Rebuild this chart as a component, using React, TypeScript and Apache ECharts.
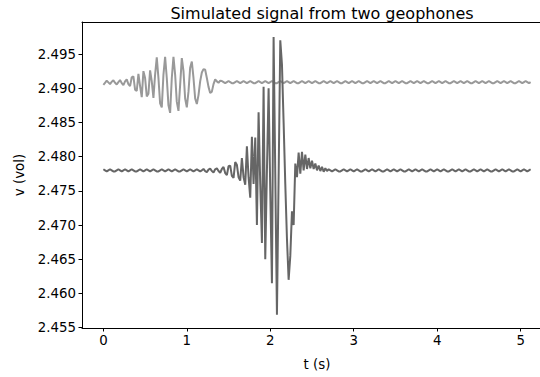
import React, { useEffect, useRef } from "react";
import * as echarts from "echarts";

// sampling step of both records (s)
const dt = 0.02;

const xTicks = [0, 1, 2, 3, 4, 5];
const yTicks = [2.455, 2.46, 2.465, 2.47, 2.475, 2.48, 2.485, 2.49, 2.495];

// geophone 1 (light trace), volts, t = 0 .. 5.12 s
const geophoneA = [
  2.4905, 2.4908, 2.4911, 2.49085, 2.4906, 2.49095, 2.49115, 2.4908, 2.49055, 2.4909, 2.4912, 2.49075, 2.49045, 2.491, 2.4913, 2.4906,
  2.4903, 2.4916, 2.49175, 2.4898, 2.4896, 2.4921, 2.4903, 2.4887, 2.4925, 2.4915, 2.4888, 2.4892, 2.4926, 2.491, 2.4886, 2.492,
  2.4945, 2.4915, 2.4878, 2.4872, 2.492, 2.4946, 2.4915, 2.4875, 2.4864, 2.4915, 2.4946, 2.492, 2.488, 2.4867, 2.4905, 2.4944,
  2.4925, 2.4885, 2.4872, 2.4895, 2.493, 2.4939, 2.4915, 2.4885, 2.4877, 2.489, 2.491, 2.4923, 2.4928, 2.4927, 2.4915, 2.4902,
  2.4893, 2.4895, 2.4906, 2.4913, 2.491, 2.4908, 2.4911,
  2.49106, 2.4909, 2.49074, 2.4909, 2.49106, 2.4909, 2.49074, 2.49074, 2.4909, 2.49106, 2.4909, 2.49074, 2.4909,
  2.49106, 2.4909, 2.49074, 2.4909, 2.49106, 2.4909, 2.49074, 2.49074, 2.4909, 2.49106, 2.4909, 2.49074, 2.4909,
  2.49106, 2.4909, 2.49074, 2.4909, 2.49106, 2.4909, 2.49074, 2.49074, 2.4909, 2.49106, 2.4909, 2.49074, 2.4909,
  2.49106, 2.4909, 2.49074, 2.4909, 2.49106, 2.4909, 2.49074, 2.49074, 2.4909, 2.49106, 2.4909, 2.49074, 2.4909,
  2.49106, 2.4909, 2.49074, 2.4909, 2.49106, 2.4909, 2.49074, 2.49074, 2.4909, 2.49106, 2.4909, 2.49074, 2.4909,
  2.49106, 2.4909, 2.49074, 2.4909, 2.49106, 2.4909, 2.49074, 2.49074, 2.4909, 2.49106, 2.4909, 2.49074, 2.4909,
  2.49106, 2.4909, 2.49074, 2.4909, 2.49106, 2.4909, 2.49074, 2.49074, 2.4909, 2.49106, 2.4909, 2.49074, 2.4909,
  2.49106, 2.4909, 2.49074, 2.4909, 2.49106, 2.4909, 2.49074, 2.49074, 2.4909, 2.49106, 2.4909, 2.49074, 2.4909,
  2.49106, 2.4909, 2.49074, 2.4909, 2.49106, 2.4909, 2.49074, 2.49074, 2.4909, 2.49106, 2.4909, 2.49074, 2.4909,
  2.49106, 2.4909, 2.49074, 2.4909, 2.49106, 2.4909, 2.49074, 2.49074, 2.4909, 2.49106, 2.4909, 2.49074, 2.4909,
  2.49106, 2.4909, 2.49074, 2.4909, 2.49106, 2.4909, 2.49074, 2.49074, 2.4909, 2.49106, 2.4909, 2.49074, 2.4909,
  2.49106, 2.4909, 2.49074, 2.4909, 2.49106, 2.4909, 2.49074, 2.49074, 2.4909, 2.49106, 2.4909, 2.49074, 2.4909,
  2.49106, 2.4909, 2.49074, 2.4909, 2.49106, 2.4909, 2.49074, 2.49074, 2.4909, 2.49106, 2.4909, 2.49074, 2.4909,
  2.49106, 2.4909, 2.49074, 2.4909, 2.49106, 2.4909, 2.49074, 2.49074, 2.4909, 2.49106, 2.4909, 2.49074, 2.4909,
  2.49106, 2.4909, 2.49074, 2.4909,
];

// geophone 2 (dark trace), volts, t = 0 .. 5.12 s
const geophoneB = [
  2.47816, 2.478, 2.47784, 2.478, 2.47816, 2.478, 2.47784, 2.47784, 2.478, 2.47816, 2.478, 2.47784, 2.478,
  2.47816, 2.478, 2.47784, 2.478, 2.47816, 2.478, 2.47784, 2.47784, 2.478, 2.47816, 2.478, 2.47784, 2.478,
  2.47816, 2.478, 2.47784, 2.478, 2.47816, 2.478, 2.47784, 2.47784, 2.478, 2.47816, 2.478, 2.47784, 2.478,
  2.47816, 2.478, 2.47784, 2.478, 2.47816, 2.478, 2.47784, 2.47784, 2.478, 2.47816, 2.478, 2.47784, 2.478,
  2.47816, 2.478, 2.47784, 2.478, 2.47816, 2.478, 2.47784, 2.478,
  2.4782, 2.4779, 2.47775, 2.4781, 2.47825, 2.4779, 2.4777, 2.47815, 2.4783, 2.4779, 2.47765, 2.4782,
  2.4785, 2.4776, 2.4773, 2.4786, 2.4787, 2.4772, 2.4769, 2.4792, 2.4788, 2.477,
  2.4765, 2.4798, 2.477, 2.4759, 2.4815, 2.477, 2.474, 2.4829, 2.476, 2.4828,
  2.47, 2.4865, 2.476, 2.4674, 2.4902, 2.465, 2.478, 2.49, 2.475, 2.4615,
  2.4975, 2.4775, 2.4569, 2.477, 2.497, 2.4935, 2.485, 2.476, 2.468, 2.462,
  2.4655, 2.472, 2.47, 2.479, 2.477, 2.4806, 2.4775, 2.4807, 2.478, 2.4803, 2.4782, 2.4798, 2.4783, 2.4794, 2.4782, 2.479, 2.478, 2.4787, 2.4779, 2.4785, 2.4778, 2.4783, 2.4779,
  2.47816, 2.478, 2.47784, 2.478, 2.47816, 2.478, 2.47784, 2.47784, 2.478, 2.47816, 2.478, 2.47784, 2.478,
  2.47816, 2.478, 2.47784, 2.478, 2.47816, 2.478, 2.47784, 2.47784, 2.478, 2.47816, 2.478, 2.47784, 2.478,
  2.47816, 2.478, 2.47784, 2.478, 2.47816, 2.478, 2.47784, 2.47784, 2.478, 2.47816, 2.478, 2.47784, 2.478,
  2.47816, 2.478, 2.47784, 2.478, 2.47816, 2.478, 2.47784, 2.47784, 2.478, 2.47816, 2.478, 2.47784, 2.478,
  2.47816, 2.478, 2.47784, 2.478, 2.47816, 2.478, 2.47784, 2.47784, 2.478, 2.47816, 2.478, 2.47784, 2.478,
  2.47816, 2.478, 2.47784, 2.478, 2.47816, 2.478, 2.47784, 2.47784, 2.478, 2.47816, 2.478, 2.47784, 2.478,
  2.47816, 2.478, 2.47784, 2.478, 2.47816, 2.478, 2.47784, 2.47784, 2.478, 2.47816, 2.478, 2.47784, 2.478,
  2.47816, 2.478, 2.47784, 2.478, 2.47816, 2.478, 2.47784, 2.47784, 2.478, 2.47816, 2.478, 2.47784, 2.478,
  2.47816, 2.478, 2.47784, 2.478, 2.47816, 2.478, 2.47784, 2.47784, 2.478, 2.47816, 2.478, 2.47784, 2.478,
  2.47816, 2.478, 2.47784, 2.478, 2.47816,
];

const FONT = "DejaVu Sans";

export default function App() {
  const ref = useRef<HTMLDivElement>(null);

  useEffect(() => {
    const chart = echarts.init(ref.current!, null, { renderer: "svg" });
    const toPairs = (vals: number[]) => vals.map((v, i) => [+(i * dt).toFixed(2), v]);
    const axisLineStyle = { color: "#000", width: 1 };
    chart.setOption({
      animation: false,
      backgroundColor: "#fff",
      title: {
        text: "Simulated signal from two geophones",
        left: 317,
        top: 0,
        textAlign: "center",
        textStyle: { fontFamily: FONT, fontSize: 16, fontWeight: "normal", color: "#000" },
      },
      grid: { left: 82, top: 22, width: 470, height: 306 },
      xAxis: [
        {
          type: "value",
          min: -0.256,
          max: 5.376,
          name: "t (s)",
          nameLocation: "middle",
          nameGap: 30,
          nameTextStyle: { fontFamily: FONT, fontSize: 13.33, color: "#000" },
          axisLine: { show: true, onZero: false, lineStyle: axisLineStyle },
          axisTick: { show: true, length: 3.5, lineStyle: axisLineStyle, customValues: xTicks },
          axisLabel: { customValues: xTicks, margin: 6, fontFamily: FONT, fontSize: 13.33, color: "#000" },
          splitLine: { show: false },
        },
        {
          type: "value",
          position: "top",
          min: -0.256,
          max: 5.376,
          axisLine: { show: true, onZero: false, lineStyle: axisLineStyle },
          axisTick: { show: false },
          axisLabel: { show: false },
          splitLine: { show: false },
        },
      ],
      yAxis: [
        {
          type: "value",
          min: 2.45496,
          max: 2.49968,
          name: "v (vol)",
          nameLocation: "middle",
          nameGap: 56,
          nameTextStyle: { fontFamily: FONT, fontSize: 13.33, color: "#000" },
          axisLine: { show: true, onZero: false, lineStyle: axisLineStyle },
          axisTick: { show: true, length: 3.5, lineStyle: axisLineStyle, customValues: yTicks },
          axisLabel: {
            customValues: yTicks,
            margin: 6,
            fontFamily: FONT,
            fontSize: 13.33,
            color: "#000",
            formatter: (v: number) => v.toFixed(3),
          },
          splitLine: { show: false },
        },
        {
          type: "value",
          position: "right",
          min: 2.45496,
          max: 2.49968,
          axisLine: { show: true, onZero: false, lineStyle: axisLineStyle },
          axisTick: { show: false },
          axisLabel: { show: false },
          splitLine: { show: false },
        },
      ],
      series: [
        {
          type: "line",
          name: "geophone 1",
          data: toPairs(geophoneA),
          symbol: "none",
          lineStyle: { color: "#999999", width: 2 },
          xAxisIndex: 0,
          yAxisIndex: 0,
        },
        {
          type: "line",
          name: "geophone 2",
          data: toPairs(geophoneB),
          symbol: "none",
          lineStyle: { color: "#666666", width: 2 },
          xAxisIndex: 0,
          yAxisIndex: 0,
        },
      ],
    });
    return () => chart.dispose();
  }, []);

  return (
    <div style={{ position: "absolute", left: 0, top: 0, width: 540, height: 377, overflow: "hidden", background: "#fff" }}>
      <div ref={ref} style={{ width: 570, height: 377 }} />
    </div>
  );
}
